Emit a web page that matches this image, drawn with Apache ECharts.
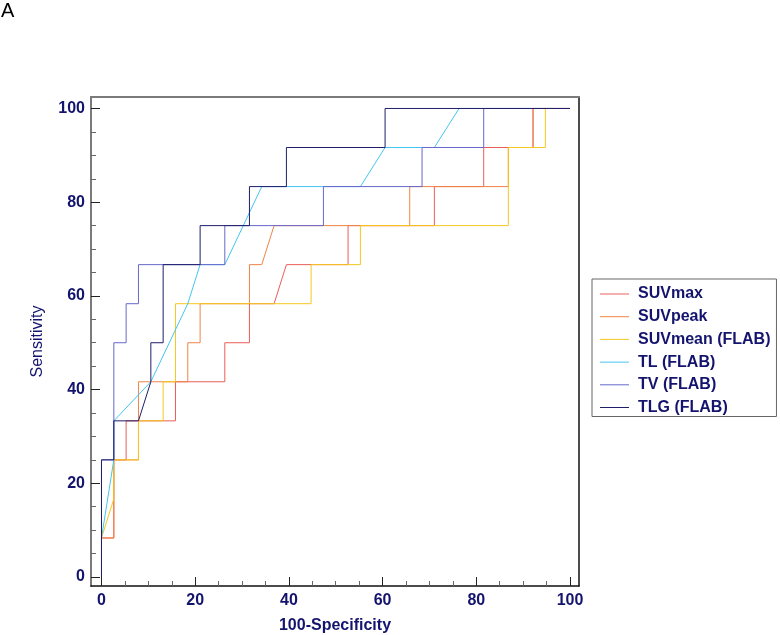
<!DOCTYPE html>
<html>
<head>
<meta charset="utf-8">
<script src="https://cdn.jsdelivr.net/npm/echarts@6/dist/echarts.min.js"></script>
<style>
html,body{margin:0;padding:0;background:#fff;}
#chart{width:780px;height:635px;}
</style>
</head>
<body>
<div id="chart"></div>
<script>
// Tick labels
const majorTicks = [0, 20, 40, 60, 80, 100];
const minorTicks = [5, 10, 15, 25, 30, 35, 45, 50, 55, 65, 70, 75, 85, 90, 95];

// Series names
const seriesNames = ['SUVmax', 'SUVpeak', 'SUVmean (FLAB)', 'TL (FLAB)', 'TV (FLAB)', 'TLG (FLAB)'];

// ROC curve coordinates (100-Specificity, Sensitivity)
const suvmaxX = [0, 0, 2.63, 2.63, 5.26, 5.26, 15.79, 15.79, 26.32, 26.32, 31.58, 31.58, 36.84, 39.47, 52.63, 52.63, 71.05, 71.05, 81.58, 81.58, 92.11, 92.11, 100];
const suvmaxY = [0, 8.33, 8.33, 25, 25, 33.33, 33.33, 41.67, 41.67, 50, 50, 58.33, 58.33, 66.67, 66.67, 75, 75, 83.33, 83.33, 91.67, 91.67, 100, 100];

const suvpeakX = [0, 0, 2.63, 2.63, 7.89, 7.89, 18.42, 18.42, 21.05, 21.05, 31.58, 31.58, 34.21, 36.84, 65.79, 65.79, 86.84, 86.84, 92.11, 92.11, 100];
const suvpeakY = [0, 8.33, 8.33, 25, 25, 41.67, 41.67, 50, 50, 58.33, 58.33, 66.67, 66.67, 75, 75, 83.33, 83.33, 91.67, 91.67, 100, 100];

const suvmeanX = [0, 0, 2.63, 2.63, 7.89, 7.89, 13.16, 13.16, 15.79, 15.79, 44.74, 44.74, 55.26, 55.26, 86.84, 86.84, 94.74, 94.74, 100];
const suvmeanY = [0, 8.33, 16.67, 25, 25, 33.33, 33.33, 41.67, 41.67, 58.33, 58.33, 66.67, 66.67, 75, 75, 91.67, 91.67, 100, 100];

const tlX = [0, 0, 2.63, 2.63, 10.53, 18.42, 21.05, 26.32, 34.21, 55.26, 60.53, 71.05, 76.32, 100];
const tlY = [0, 8.33, 25, 33.33, 41.67, 58.33, 66.67, 66.67, 83.33, 83.33, 91.67, 91.67, 100, 100];

const tvX = [0, 0, 2.63, 2.63, 5.26, 5.26, 7.89, 7.89, 26.32, 26.32, 47.37, 47.37, 68.42, 68.42, 81.58, 81.58, 100];
const tvY = [0, 25, 25, 50, 50, 58.33, 58.33, 66.67, 66.67, 75, 75, 83.33, 83.33, 91.67, 91.67, 100, 100];

const tlgX = [0, 0, 2.63, 2.63, 7.89, 10.53, 10.53, 13.16, 13.16, 21.05, 21.05, 31.58, 31.58, 39.47, 39.47, 60.53, 60.53, 100];
const tlgY = [0, 25, 25, 33.33, 33.33, 41.67, 50, 50, 66.67, 66.67, 75, 75, 83.33, 83.33, 91.67, 91.67, 100, 100];

const seriesColors = ['#ea5e58', '#f08446', '#f4c81e', '#44c6f0', '#6868cc', '#1e1e6a'];

function pairs(xs, ys) { return xs.map((x, i) => [x, ys[i]]); }
const seriesData = [
  pairs(suvmaxX, suvmaxY),
  pairs(suvpeakX, suvpeakY),
  pairs(suvmeanX, suvmeanY),
  pairs(tlX, tlY),
  pairs(tvX, tvY),
  pairs(tlgX, tlgY)
];

const NAVY = '#14146e';
const FONT = '"Liberation Sans", Arial, sans-serif';
const xMin = -2.24, xMax = 101.92, yMin = -1.92, yMax = 102.45;

const chart = echarts.init(document.getElementById('chart'), null, {renderer: 'canvas'});
chart.setOption({
  animation: false,
  backgroundColor: '#ffffff',
  graphic: [{
    type: 'text', left: 1, top: 1,
    style: {text: 'A', font: '20px ' + FONT, fill: '#000'}
  }],
  grid: {left: 91, right: 201, top: 97, bottom: 49, show: false, containLabel: false, outerBoundsMode: 'none'},
  legend: {
    orient: 'vertical',
    left: 592, top: 279,
    width: 187,
    padding: [7, 6, 1, 8],
    itemGap: 6.7,
    itemWidth: 29,
    itemHeight: 14,
    icon: 'path://M0,6.5 H29 V7.5 H0 Z',
    borderColor: '#666',
    borderWidth: 1,
    data: seriesNames,
    textStyle: {color: NAVY, fontFamily: FONT, fontWeight: 'bold', fontSize: 16, lineHeight: 14, padding: [0, 0, 0, 4]}
  },
  xAxis: [{
    type: 'value', min: xMin, max: xMax, position: 'bottom',
    name: '100-Specificity', nameLocation: 'middle', nameGap: 32,
    nameTextStyle: {color: NAVY, fontFamily: FONT, fontWeight: 'bold', fontSize: 16},
    axisLine: {show: true, onZero: false, lineStyle: {color: '#111', width: 1.5}},
    axisTick: {show: true, inside: true, length: 9, customValues: majorTicks, lineStyle: {color: '#222'}},
    axisLabel: {show: true, customValues: majorTicks, margin: 7, color: NAVY, fontFamily: FONT, fontWeight: 'bold', fontSize: 16},
    splitLine: {show: false}
  }, {
    type: 'value', min: xMin, max: xMax, position: 'bottom',
    axisLine: {show: false, onZero: false},
    axisTick: {show: true, inside: true, length: 5, customValues: minorTicks, lineStyle: {color: '#666'}},
    axisLabel: {show: false},
    splitLine: {show: false}
  }, {
    type: 'value', min: xMin, max: xMax, position: 'top',
    axisLine: {show: true, onZero: false, lineStyle: {color: '#7a7a7a', width: 2}},
    axisTick: {show: false}, axisLabel: {show: false}, splitLine: {show: false}
  }],
  yAxis: [{
    type: 'value', min: yMin, max: yMax, position: 'left',
    name: 'Sensitivity', nameLocation: 'middle', nameGap: 45,
    nameTextStyle: {color: NAVY, fontFamily: FONT, fontSize: 16},
    axisLine: {show: true, onZero: false, lineStyle: {color: '#7a7a7a', width: 2}},
    axisTick: {show: true, inside: true, length: 9, customValues: majorTicks, lineStyle: {color: '#222'}},
    axisLabel: {show: true, customValues: majorTicks, margin: 6, color: NAVY, fontFamily: FONT, fontWeight: 'bold', fontSize: 16},
    splitLine: {show: false}
  }, {
    type: 'value', min: yMin, max: yMax, position: 'left',
    axisLine: {show: false, onZero: false},
    axisTick: {show: true, inside: true, length: 5, customValues: minorTicks, lineStyle: {color: '#666'}},
    axisLabel: {show: false},
    splitLine: {show: false}
  }, {
    type: 'value', min: yMin, max: yMax, position: 'right',
    axisLine: {show: true, onZero: false, lineStyle: {color: '#111', width: 1.5}},
    axisTick: {show: false}, axisLabel: {show: false}, splitLine: {show: false}
  }],
  series: seriesNames.map((name, i) => ({
    name: name,
    type: 'line',
    xAxisIndex: 0, yAxisIndex: 0,
    data: seriesData[i],
    symbol: 'none',
    showSymbol: false,
    color: seriesColors[i],
    lineStyle: {color: seriesColors[i], width: 1},
    emphasis: {disabled: true}
  }))
});
</script>
</body>
</html>
